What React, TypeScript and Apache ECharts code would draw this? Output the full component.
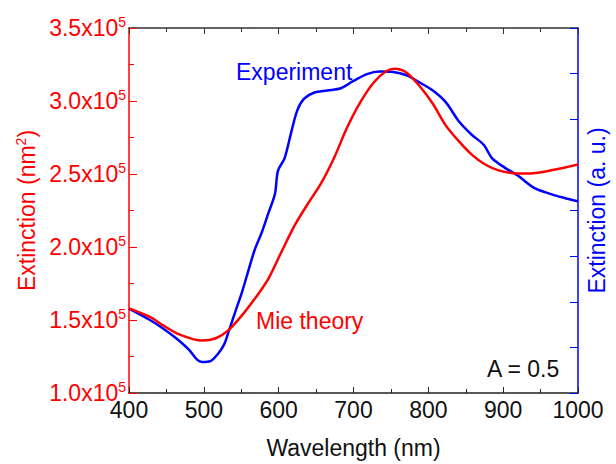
import React, { useEffect, useRef } from "react";
import * as echarts from "echarts";

const FONT = "Liberation Sans, Arial, sans-serif";

const mieWavelength = [400, 428, 445, 467, 498, 516, 533, 551, 568, 586, 603, 621, 639, 656, 674, 691, 709, 727, 744, 755, 771, 788, 806, 823, 841, 858, 876, 894, 911, 929, 946, 964, 981, 1000];
const mieExtinction = [158000, 152100, 146500, 140200, 135900, 137500, 143100, 153200, 164500, 178000, 195900, 214500, 229600, 243000, 261000, 281300, 299000, 312700, 320500, 322100, 319400, 310400, 298100, 283500, 272300, 263300, 256500, 252500, 250700, 250300, 250900, 252500, 254300, 256500];

const expWavelength = [400, 428, 445, 463, 480, 491, 498, 509, 518, 527, 533, 542, 551, 560, 568, 577, 586, 595, 599, 608, 617, 625, 634, 647, 665, 683, 700, 718, 735, 753, 771, 788, 806, 823, 841, 858, 874, 885, 902, 920, 942, 964, 981, 1000];
const expExtinction = [1.85, 1.6, 1.42, 1.2, 0.95, 0.73, 0.68, 0.7, 0.84, 1.06, 1.34, 1.78, 2.21, 2.71, 3.14, 3.5, 3.93, 4.36, 4.87, 5.15, 5.73, 6.2, 6.45, 6.58, 6.63, 6.68, 6.84, 6.99, 7.045, 7.036, 6.965, 6.81, 6.63, 6.38, 5.95, 5.66, 5.44, 5.15, 4.94, 4.76, 4.49, 4.36, 4.28, 4.2];

const xMin = 400;
const xMax = 1000;
const xInterval = 100;
const leftMin = 100000;
const leftMax = 350000;
const leftInterval = 50000;
const rightMin = 0;
const rightMax = 8;

export default function App() {
  const ref = useRef<HTMLDivElement>(null);
  useEffect(() => {
    if (!ref.current) return;
    const chart = echarts.init(ref.current, undefined, { renderer: "svg" });
    const mieData = mieWavelength.map((w, i) => [w, mieExtinction[i]]);
    const expData = expWavelength.map((w, i) => [w, expExtinction[i]]);
    const red = "#ff0000";
    const blue = "#0000ff";
    const FS = 23;
    chart.setOption({
      animation: false,
      backgroundColor: "#ffffff",
      grid: { left: 129, right: 32, top: 28, bottom: 65, containLabel: false },
      xAxis: [
        {
          type: "value",
          min: xMin,
          max: xMax,
          interval: xInterval,
          position: "bottom",
          name: "Wavelength (nm)",
          nameLocation: "middle",
          nameGap: 43,
          nameTextStyle: { fontFamily: FONT, fontSize: FS, color: "#111" },
          axisLine: { show: true, lineStyle: { color: "#222", width: 1.5 } },
          axisTick: { show: true, inside: true, length: 6, lineStyle: { color: "#222" } },
          minorTick: { show: true, splitNumber: 2, length: 4, lineStyle: { color: "#222" } },
          axisLabel: { fontFamily: FONT, fontSize: FS, color: "#111", margin: 5, formatter: (v: number) => String(v) },
          splitLine: { show: false },
        },
        {
          type: "value",
          min: xMin,
          max: xMax,
          interval: xInterval,
          position: "top",
          axisLine: { show: true, lineStyle: { color: "#333", width: 1.5 } },
          axisTick: { show: true, inside: true, length: 6, lineStyle: { color: "#333" } },
          minorTick: { show: true, splitNumber: 2, length: 4, lineStyle: { color: "#333" } },
          axisLabel: { show: false },
          splitLine: { show: false },
        },
      ],
      yAxis: [
        {
          type: "value",
          min: leftMin,
          max: leftMax,
          interval: leftInterval,
          position: "left",
          name: "{a|Extinction (nm}{b|2}{a|)}",
          nameLocation: "middle",
          nameGap: 86,
          nameTextStyle: {
            color: red,
            rich: {
              a: { fontFamily: FONT, fontSize: FS, color: red, lineHeight: 26 },
              b: { fontFamily: FONT, fontSize: 14, color: red, lineHeight: 14, verticalAlign: "top" },
            },
          },
          axisLine: { show: true, lineStyle: { color: red, width: 1.5 } },
          axisTick: { show: true, inside: true, length: 8, lineStyle: { color: red } },
          minorTick: { show: true, splitNumber: 2, length: 5, lineStyle: { color: red } },
          axisLabel: {
            margin: 3,
            formatter: (v: number) => `{a|${(v / 100000).toFixed(1)}x10}{b|5}`,
            rich: {
              a: { fontFamily: FONT, fontSize: FS, color: red, lineHeight: 26 },
              b: { fontFamily: FONT, fontSize: 14, color: red, lineHeight: 14, verticalAlign: "top" },
            },
          },
          splitLine: { show: false },
        },
        {
          type: "value",
          min: rightMin,
          max: rightMax,
          interval: 1,
          position: "right",
          name: "Extinction (a. u.)",
          nameLocation: "middle",
          nameGap: 7,
          nameTextStyle: { fontFamily: FONT, fontSize: FS, color: blue },
          axisLine: { show: true, lineStyle: { color: blue, width: 1.5 } },
          axisTick: { show: true, inside: true, length: 8, lineStyle: { color: blue } },
          axisLabel: { show: false },
          splitLine: { show: false },
        },
      ],
      series: [
        {
          name: "Mie theory",
          type: "line",
          xAxisIndex: 0,
          yAxisIndex: 0,
          data: mieData,
          showSymbol: false,
          smooth: 0.3,
          lineStyle: { color: red, width: 2.5 },
          z: 3,
        },
        {
          name: "Experiment",
          type: "line",
          xAxisIndex: 0,
          yAxisIndex: 1,
          data: expData,
          showSymbol: false,
          smooth: 0.3,
          lineStyle: { color: blue, width: 2.5 },
          z: 2,
        },
      ],
      graphic: [
        {
          type: "text",
          x: 236,
          y: 72,
          style: { text: "Experiment", fontFamily: FONT, fontSize: FS, fill: blue, verticalAlign: "middle", align: "left" },
        },
        {
          type: "text",
          x: 256,
          y: 321,
          style: { text: "Mie theory", fontFamily: FONT, fontSize: FS, fill: red, verticalAlign: "middle", align: "left" },
        },
        {
          type: "text",
          x: 487,
          y: 369,
          style: { text: "A = 0.5", fontFamily: FONT, fontSize: FS, fill: "#111", verticalAlign: "middle", align: "left" },
        },
      ],
    });
    return () => chart.dispose();
  }, []);
  return <div ref={ref} style={{ width: 616, height: 464, position: "absolute", left: 0, top: 0 }} />;
}
